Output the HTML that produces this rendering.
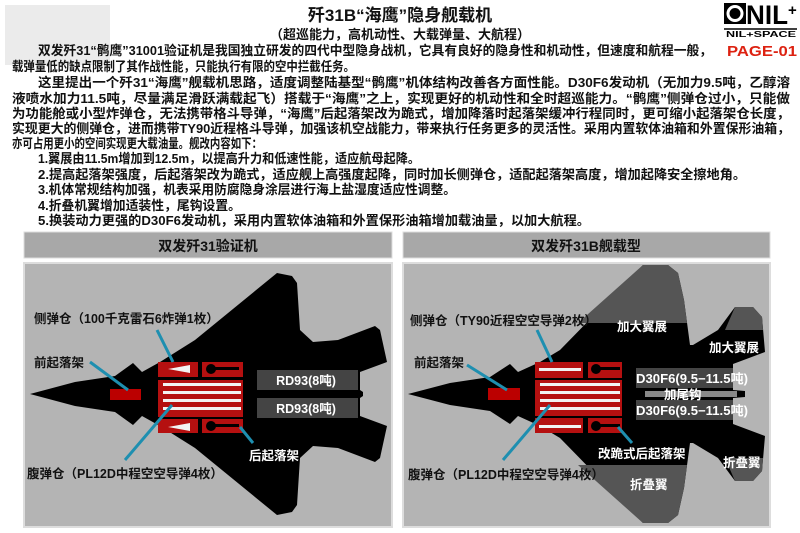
<!DOCTYPE html>
<html><head><meta charset="utf-8"><style>
html,body{margin:0;padding:0;background:#fff;width:800px;height:533px;overflow:hidden}
svg{display:block}
text{font-family:"Liberation Sans","Noto Sans CJK SC","WenQuanYi Zen Hei",sans-serif}
.p{font-size:13px;fill:#111;font-weight:bold}
.l{font-size:12.5px;fill:#111;font-weight:bold}
.w{font-size:12.5px;fill:#fff;font-weight:bold}
.c{stroke:#1e8fb0;stroke-width:3}
</style></head><body>
<svg width="800" height="533" viewBox="0 0 800 533">
<rect x="5" y="5" width="105" height="60" fill="#e6e6e6" opacity="0.8"/>
<text x="400" y="21" text-anchor="middle" font-size="17" font-weight="bold" fill="#111">歼31B“海鹰”隐身舰载机</text>
<text x="400" y="39" text-anchor="middle" font-size="13" font-weight="bold" fill="#111">（超巡能力，高机动性、大载弹量、大航程）</text>
<!-- logo -->
<rect x="724" y="3" width="22" height="21" fill="#000"/>
<circle cx="735" cy="13.5" r="7" fill="none" stroke="#fff" stroke-width="3"/>
<text x="746" y="24" font-size="27" font-weight="bold" fill="#000" textLength="42" lengthAdjust="spacingAndGlyphs">NIL</text>
<text x="788" y="15" font-size="15" font-weight="bold" fill="#000">+</text>
<line x1="724" y1="29" x2="797" y2="29" stroke="#000" stroke-width="1.5"/>
<text x="726" y="37" font-size="8" font-weight="bold" fill="#000" textLength="70" lengthAdjust="spacingAndGlyphs" font-family="Liberation Serif,serif">NIL+SPACE</text>
<text x="727" y="56" font-size="15" fill="#d21" font-weight="bold" textLength="70" lengthAdjust="spacingAndGlyphs">PAGE-01</text>
<!-- paragraph -->
<g class="p">
<text x="38" y="55" textLength="674" lengthAdjust="spacingAndGlyphs">双发歼31“鹘鹰”31001验证机是我国独立研发的四代中型隐身战机，它具有良好的隐身性和机动性，但速度和航程一般，</text>
<text x="12" y="71" textLength="343" lengthAdjust="spacingAndGlyphs">载弹量低的缺点限制了其作战性能，只能执行有限的空中拦截任务。</text>
<text x="38" y="87" textLength="752" lengthAdjust="spacingAndGlyphs">这里提出一个歼31“海鹰”舰载机思路，适度调整陆基型“鹘鹰”机体结构改善各方面性能。D30F6发动机（无加力9.5吨，乙醇溶</text>
<text x="12" y="103" textLength="778" lengthAdjust="spacingAndGlyphs">液喷水加力11.5吨，尽量满足滑跃满载起飞）搭载于“海鹰”之上，实现更好的机动性和全时超巡能力。“鹘鹰”侧弹仓过小，只能做</text>
<text x="12" y="118" textLength="778" lengthAdjust="spacingAndGlyphs">为功能舱或小型炸弹仓，无法携带格斗导弹，“海鹰”后起落架改为跪式，增加降落时起落架缓冲行程同时，更可缩小起落架仓长度，</text>
<text x="12" y="133" textLength="778" lengthAdjust="spacingAndGlyphs">实现更大的侧弹仓，进而携带TY90近程格斗导弹，加强该机空战能力，带来执行任务更多的灵活性。采用内置软体油箱和外置保形油箱，</text>
<text x="12" y="148" textLength="250" lengthAdjust="spacingAndGlyphs">亦可占用更小的空间实现更大载油量。舰改内容如下：</text>
<text x="38" y="163" textLength="382" lengthAdjust="spacingAndGlyphs">1.翼展由11.5m增加到12.5m，以提高升力和低速性能，适应航母起降。</text>
<text x="38" y="179" textLength="708" lengthAdjust="spacingAndGlyphs">2.提高起落架强度，后起落架改为跪式，适应舰上高强度起降，同时加长侧弹仓，适配起落架高度，增加起降安全擦地角。</text>
<text x="38" y="194" textLength="418" lengthAdjust="spacingAndGlyphs">3.机体常规结构加强，机表采用防腐隐身涂层进行海上盐湿度适应性调整。</text>
<text x="38" y="210" textLength="203" lengthAdjust="spacingAndGlyphs">4.折叠机翼增加适装性，尾钩设置。</text>
<text x="38" y="225" textLength="552" lengthAdjust="spacingAndGlyphs">5.换装动力更强的D30F6发动机，采用内置软体油箱和外置保形油箱增加载油量，以加大航程。</text>
</g>
<!-- panel headers -->
<rect x="24" y="232" width="368" height="26" fill="#a8a8a8" stroke="#ddd"/>
<rect x="403" y="232" width="367" height="26" fill="#a8a8a8" stroke="#ddd"/>
<text x="208" y="251" text-anchor="middle" font-size="14" font-weight="bold" fill="#111">双发歼31验证机</text>
<text x="586" y="251" text-anchor="middle" font-size="14" font-weight="bold" fill="#111">双发歼31B舰载型</text>
<rect x="24" y="263" width="368" height="264" fill="#b4b4b4" stroke="#ddd" stroke-width="2"/>
<rect x="403" y="263" width="367" height="264" fill="#b4b4b4" stroke="#ddd" stroke-width="2"/>

<!-- LEFT JET -->
<polygon fill="#000" points="30,394 75,382 115,376 133,363 142,372 160,362 195,340 277,273 292,276 297,283 300,330 313,342 338,340 375,326 380,330 387,362 360,372 360,390 363,392 363,396 360,398 360,416 387,426 380,458 375,462 338,448 313,446 300,458 297,505 292,512 277,515 195,448 160,426 142,416 133,425 115,412 75,406"/>
<rect x="257" y="370" width="101" height="20" fill="#444"/>
<rect x="257" y="398" width="101" height="20" fill="#444"/>
<text class="w" x="306" y="385" text-anchor="middle">RD93(8吨)</text>
<text class="w" x="306" y="413" text-anchor="middle">RD93(8吨)</text>
<rect x="110" y="389" width="31" height="11" fill="#b00"/>
<g fill="#b51010">
<rect x="158" y="362" width="40" height="15"/><rect x="202" y="362" width="41" height="15"/>
<rect x="158" y="380" width="85" height="37"/>
<rect x="158" y="419" width="40" height="14"/><rect x="202" y="419" width="41" height="14"/>
</g>
<g fill="#f2f2f2">
<rect x="163" y="383" width="78" height="3"/><rect x="163" y="391" width="78" height="3"/><rect x="163" y="399" width="78" height="3"/><rect x="163" y="407" width="78" height="3"/>
<polygon points="168,369 190,365 190,373"/><polygon points="168,427 190,423 190,431"/>
</g>
<circle cx="211" cy="369" r="5" fill="#000"/><rect x="211" y="367" width="28" height="3" fill="#000"/>
<circle cx="211" cy="426" r="5" fill="#000"/><rect x="211" y="424" width="28" height="3" fill="#000"/>
<line class="c" x1="157" y1="330" x2="173" y2="362"/>
<line class="c" x1="90" y1="362" x2="128" y2="390"/>
<line class="c" x1="125" y1="460" x2="172" y2="405"/>
<line class="c" x1="240" y1="427" x2="253" y2="443"/>
<text class="l" x="34" y="323">侧弹仓（100千克雷石6炸弹1枚）</text>
<text class="l" x="34" y="367">前起落架</text>
<text class="l" x="27" y="478">腹弹仓（PL12D中程空空导弹4枚）</text>
<text class="w" x="249" y="460">后起落架</text>

<!-- RIGHT JET -->
<polygon fill="#000" points="408,394 450,383 490,377 510,364 518,372 540,362 560,350 643,265 668,265 678,273 684,300 690,345 693,345 718,330 735,307 753,307 762,317 765,352 733,364 733,390 745,391 745,397 733,398 733,424 765,436 762,471 753,481 735,481 718,458 693,443 690,443 684,488 678,515 668,523 643,523 560,438 540,426 518,416 510,424 490,411 450,405"/>
<g fill="#555">
<polygon points="578,323 643,265 668,265 678,273 684,300 687,323"/>
<polygon points="725,330 735,307 753,307 762,317 763,330"/>
<polygon points="578,465 643,523 668,523 678,515 684,488 687,465"/>
<polygon points="725,458 735,481 753,481 762,471 763,458"/>
</g>
<rect x="636" y="368" width="97" height="20" fill="#444"/>
<rect x="636" y="400" width="97" height="20" fill="#444"/>
<rect x="645" y="391" width="92" height="6" fill="#888"/>
<text class="w" x="636" y="383" textLength="112" lengthAdjust="spacingAndGlyphs">D30F6(9.5−11.5吨)</text>
<text class="w" x="636" y="415" textLength="112" lengthAdjust="spacingAndGlyphs">D30F6(9.5−11.5吨)</text>
<text class="w" x="664" y="399">加尾钩</text>
<rect x="488" y="388" width="32" height="12" fill="#b00"/>
<g fill="#b51010">
<rect x="535" y="362" width="48" height="16"/><rect x="588" y="362" width="34" height="16"/>
<rect x="535" y="380" width="87" height="36"/>
<rect x="535" y="418" width="48" height="15"/><rect x="588" y="418" width="34" height="15"/>
</g>
<g fill="#f2f2f2">
<rect x="539" y="368" width="42" height="3"/><rect x="539" y="425" width="42" height="3"/>
<rect x="540" y="383" width="80" height="3"/><rect x="540" y="391" width="80" height="3"/><rect x="540" y="399" width="80" height="3"/><rect x="540" y="407" width="80" height="3"/>
</g>
<circle cx="596" cy="369" r="5" fill="#000"/><rect x="596" y="367" width="24" height="3" fill="#000"/>
<circle cx="596" cy="426" r="5" fill="#000"/><rect x="596" y="424" width="24" height="3" fill="#000"/>
<line class="c" x1="537" y1="330" x2="552" y2="362"/>
<line class="c" x1="467" y1="365" x2="507" y2="390"/>
<line class="c" x1="503" y1="460" x2="550" y2="405"/>
<line class="c" x1="618" y1="427" x2="632" y2="443"/>
<text class="l" x="410" y="325">侧弹仓（TY90近程空空导弹2枚）</text>
<text class="l" x="414" y="367">前起落架</text>
<text class="l" x="408" y="479">腹弹仓（PL12D中程空空导弹4枚）</text>
<text class="w" x="598" y="458">改跪式后起落架</text>
<text class="w" x="617" y="331">加大翼展</text>
<text class="w" x="709" y="352">加大翼展</text>
<text class="w" x="630" y="489">折叠翼</text>
<text class="w" x="723" y="467">折叠翼</text>
</svg>
</body></html>
